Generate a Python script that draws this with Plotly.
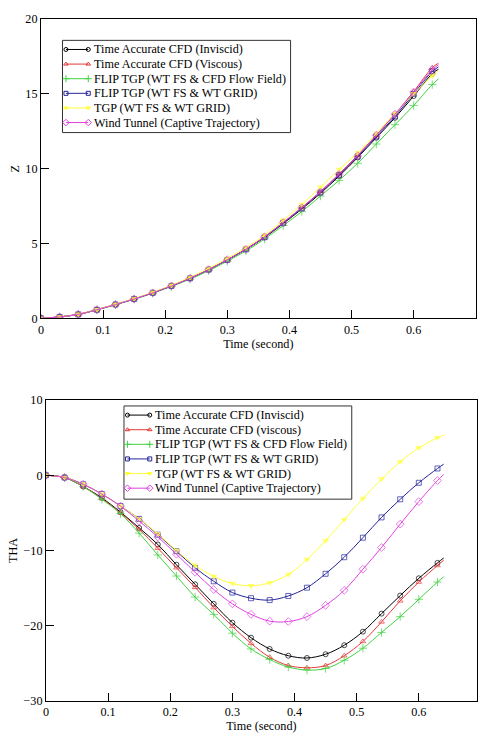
import plotly.graph_objects as go

# ---- data ----
time = [0, 0.03, 0.06, 0.09, 0.12, 0.15, 0.18, 0.21, 0.24, 0.27, 0.30, 0.33,
        0.36, 0.39, 0.42, 0.45, 0.48, 0.51, 0.54, 0.57, 0.60, 0.63, 0.64]

z_inviscid = [0, 0.09, 0.26, 0.57, 0.92, 1.29, 1.70, 2.16, 2.67, 3.25, 3.90, 4.60,
              5.40, 6.33, 7.30, 8.35, 9.50, 10.75, 12.07, 13.40, 14.85, 16.35, 16.65]
z_viscous = [0, 0.09, 0.26, 0.57, 0.92, 1.29, 1.70, 2.16, 2.67, 3.25, 3.91, 4.62,
             5.45, 6.40, 7.40, 8.47, 9.65, 10.90, 12.25, 13.65, 15.15, 16.75, 17.05]
z_flip_cfd = [0, 0.09, 0.26, 0.56, 0.91, 1.27, 1.67, 2.12, 2.62, 3.18, 3.82, 4.50,
              5.30, 6.20, 7.13, 8.17, 9.22, 10.36, 11.65, 12.94, 14.22, 15.62, 16.0]
z_flip_wt = [0, 0.09, 0.26, 0.57, 0.92, 1.29, 1.70, 2.16, 2.67, 3.25, 3.90, 4.61,
             5.42, 6.38, 7.36, 8.42, 9.58, 10.82, 12.15, 13.50, 15.00, 16.50, 16.80]
z_tgp = [0, 0.09, 0.27, 0.58, 0.94, 1.32, 1.74, 2.21, 2.74, 3.33, 4.00, 4.72,
         5.56, 6.55, 7.60, 8.77, 9.95, 11.05, 12.35, 13.70, 15.00, 16.20, 16.55]
z_wind = [0, 0.09, 0.26, 0.57, 0.92, 1.29, 1.70, 2.16, 2.67, 3.25, 3.91, 4.61,
          5.44, 6.40, 7.39, 8.44, 9.62, 10.86, 12.24, 13.64, 15.12, 16.60, 16.95]

tha_inviscid = [0, -0.3, -1.5, -3.0, -4.9, -7.0, -9.2, -11.9, -14.5, -17.1, -19.6, -21.6,
                -23.1, -24.0, -24.3, -23.8, -22.6, -20.8, -18.4, -16.0, -13.7, -11.65, -11.0]
tha_viscous = [0, -0.3, -1.5, -3.1, -5.0, -7.2, -9.7, -12.3, -14.9, -17.6, -20.1, -22.35,
               -24.2, -25.3, -25.6, -25.3, -24.0, -22.1, -19.5, -16.7, -14.2, -12.0, -11.3]
tha_flip_cfd = [0, -0.3, -1.5, -3.2, -5.1, -7.7, -10.6, -13.4, -16.2, -18.5, -21.0, -23.1,
                -24.5, -25.5, -25.9, -25.7, -24.6, -23.0, -20.9, -18.8, -16.5, -14.2, -13.5]
tha_flip_wt = [0, -0.3, -1.2, -2.5, -4.1, -5.8, -7.9, -10.1, -12.3, -14.1, -15.6, -16.35,
               -16.6, -16.05, -14.95, -13.1, -10.9, -8.3, -5.6, -3.2, -1.0, 0.9, 1.48]
tha_tgp = [0, -0.3, -1.2, -2.5, -4.1, -5.8, -7.8, -10.0, -12.0, -13.45, -14.4, -14.7,
           -14.3, -13.2, -11.2, -8.7, -5.9, -3.1, -0.5, 1.8, 3.65, 5.0, 5.35]
tha_wind = [0, -0.3, -1.2, -2.5, -4.1, -6.1, -8.2, -10.5, -12.9, -15.2, -17.1, -18.5,
            -19.4, -19.45, -18.8, -17.3, -15.3, -12.5, -9.6, -6.5, -3.5, -0.7, 0.1]

names_top = ["Time Accurate CFD (Inviscid)", "Time Accurate CFD (Viscous)",
             "FLIP TGP (WT FS & CFD Flow Field)", "FLIP TGP (WT FS & WT GRID)",
             "TGP (WT FS & WT GRID)", "Wind Tunnel (Captive Trajectory)"]
names_bot = ["Time Accurate CFD (Inviscid)", "Time Accurate CFD (viscous)",
             "FLIP TGP (WT FS & CFD Flow Field)", "FLIP TGP (WT FS & WT GRID)",
             "TGP (WT FS & WT GRID)", "Wind Tunnel (Captive Trajectory)"]

z_series = [z_inviscid, z_viscous, z_flip_cfd, z_flip_wt, z_tgp, z_wind]
tha_series = [tha_inviscid, tha_viscous, tha_flip_cfd, tha_flip_wt, tha_tgp, tha_wind]

# ---- styles ----
colors = ["#000000", "#e8383a", "#3fd23f", "#23239a", "#ffff3a", "#e040e0"]
symbols = ["circle-open", "triangle-up-open", "cross-thin-open", "square-open",
           "triangle-down", "diamond-open"]
msizes = [5, 5, 6, 5, 5, 6]
FONT = "Liberation Serif"
TXT = 12.2

W, H = 478, 736
fig = go.Figure()


def marker_sizes(s, n):
    return [s] * (n - 1) + [0]


def add_series(series, xa, ya):
    for i in range(6):
        fig.add_trace(go.Scatter(
            x=time, y=series[i], mode="lines+markers", showlegend=False,
            line=dict(color=colors[i], width=1, shape="spline"),
            marker=dict(symbol=symbols[i], size=marker_sizes(msizes[i], len(time)),
                        color=colors[i], line=dict(width=1, color=colors[i])),
            xaxis=xa, yaxis=ya))


add_series(z_series, "x", "y")
add_series(tha_series, "x2", "y2")


def px_x(p):
    return p / W


def px_y(p):
    return 1 - p / H


# ---- hand-made legends (library legend rows are too tall) ----
ROW = 14.9
annotations = []
shapes = []


def add_legend(names, left, top, width, height, xa, ya, xname, yname):
    shapes.append(dict(type="rect", xref="paper", yref="paper",
                       x0=px_x(left), x1=px_x(left + width),
                       y0=px_y(top + height), y1=px_y(top),
                       line=dict(color="#333333", width=1), fillcolor="white",
                       layer="below"))
    fig.layout[xname] = dict(domain=[px_x(left), px_x(left + width)],
                             range=[0, width], visible=False, fixedrange=True,
                             anchor=ya)
    fig.layout[yname] = dict(domain=[px_y(top + height), px_y(top)],
                             range=[height, 0], visible=False, fixedrange=True,
                             anchor=xa)
    for i, nm in enumerate(names):
        yy = 9.3 + ROW * i
        fig.add_trace(go.Scatter(
            x=[3.5, 26], y=[yy, yy], mode="lines+markers", showlegend=False,
            line=dict(color=colors[i], width=1),
            marker=dict(symbol=symbols[i], size=msizes[i] - 1, color=colors[i],
                        line=dict(width=1, color=colors[i])),
            xaxis=xa, yaxis=ya, hoverinfo="skip"))
        annotations.append(dict(x=29.5, y=yy, xref=xa, yref=ya, text=nm,
                                showarrow=False, xanchor="left", yanchor="middle",
                                font=dict(family=FONT, size=TXT, color="black")))


add_legend(names_top, 60, 34, 230, 94, "x3", "y3", "xaxis3", "yaxis3")
add_legend(names_bot, 122, 406.7, 229.7, 95, "x4", "y4", "xaxis4", "yaxis4")

axis_common = dict(showline=True, linecolor="black", linewidth=1, mirror=True,
                   ticks="inside", ticklen=8, tickcolor="black", tickwidth=1,
                   showgrid=False, zeroline=False,
                   tickfont=dict(family=FONT, size=TXT, color="black"))

fig.update_layout(
    width=W, height=H, margin=dict(l=0, r=0, t=0, b=0),
    paper_bgcolor="white", plot_bgcolor="rgba(0,0,0,0)",
    font=dict(family=FONT, color="black"),
    showlegend=False,
    xaxis=dict(domain=[px_x(38.3), px_x(476.7)], range=[0, 0.7], dtick=0.1,
               anchor="y", title=dict(text="Time (second)", font=dict(family=FONT, size=TXT), standoff=0),
               **axis_common),
    yaxis=dict(domain=[px_y(317.3), px_y(12.3)], range=[0, 20], dtick=5,
               anchor="x", title=dict(text="Z", font=dict(family=FONT, size=TXT), standoff=3),
               **axis_common),
    xaxis2=dict(domain=[px_x(43.3), 1.0], range=[0, 0.6936], dtick=0.1,
                anchor="y2", title=dict(text="Time (second)", font=dict(family=FONT, size=TXT), standoff=0),
                **axis_common),
    yaxis2=dict(domain=[px_y(707.3), px_y(400.7)], range=[-30, 10], dtick=10,
                anchor="x2", title=dict(text="THA", font=dict(family=FONT, size=TXT), standoff=3),
                **axis_common),
    annotations=annotations,
    shapes=shapes,
)

fig.write_html("out.html")
